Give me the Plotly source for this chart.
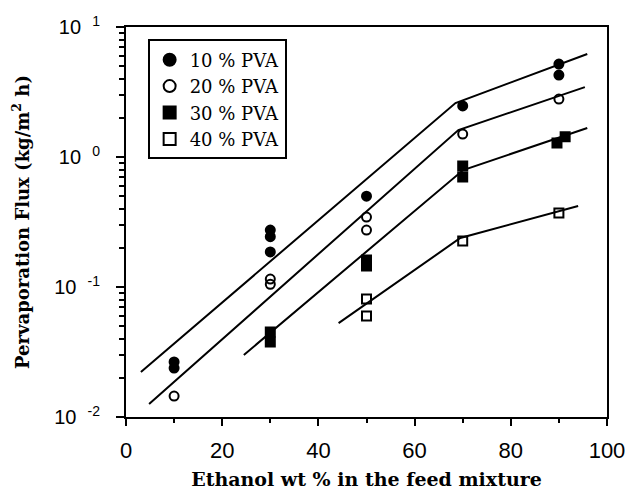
import plotly.graph_objects as go

# ---- data ----
series_names = ["10 % PVA", "20 % PVA", "30 % PVA", "40 % PVA"]

pva10_x = [10, 10, 30, 30, 30, 50, 70, 90, 90]
pva10_y = [0.0265, 0.0238, 0.274, 0.244, 0.186, 0.50, 2.47, 5.19, 4.27]

pva20_x = [10, 30, 30, 50, 50, 70, 90]
pva20_y = [0.0145, 0.115, 0.105, 0.345, 0.274, 1.50, 2.79]

pva30_x = [30, 30, 50, 50, 70, 70, 89.6, 91.3]
pva30_y = [0.0451, 0.0378, 0.161, 0.145, 0.853, 0.702, 1.28, 1.43]

pva40_x = [50, 50, 70, 90]
pva40_y = [0.0809, 0.0598, 0.226, 0.371]

# fitted piecewise lines: (start, kink, end)
fit10_x = [3.1, 68.5, 95.9]
fit10_y = [0.0222, 2.60, 6.2]
fit20_x = [4.8, 69.1, 95.4]
fit20_y = [0.0126, 1.61, 3.45]
fit30_x = [24.5, 70.1, 95.9]
fit30_y = [0.030, 0.794, 1.67]
fit40_x = [44.2, 69.5, 94.0]
fit40_y = [0.0528, 0.238, 0.42]

y_tickvals = [0.01, 0.1, 1, 10]
y_ticktext = ["10\u00a0\u00a0<sup>-2</sup>", "10\u00a0\u00a0<sup>-1</sup>",
              "10\u00a0\u00a0<sup>0</sup>", "10\u00a0\u00a0<sup>1</sup>"]
x_tickvals = [0, 20, 40, 60, 80, 100]

serif = "DejaVu Serif"
sans = "Liberation Sans"

fig = go.Figure()

for fx, fy in [(fit10_x, fit10_y), (fit20_x, fit20_y), (fit30_x, fit30_y), (fit40_x, fit40_y)]:
    fig.add_trace(go.Scatter(x=fx, y=fy, mode="lines", showlegend=False,
                             line=dict(color="black", width=2), hoverinfo="skip"))

marker_defs = [
    (pva10_x, pva10_y, "circle"),
    (pva20_x, pva20_y, "circle-open"),
    (pva30_x, pva30_y, "square"),
    (pva40_x, pva40_y, "square-open"),
]
for (mx, my, sym), name in zip(marker_defs, series_names):
    fig.add_trace(go.Scatter(
        x=mx, y=my, mode="markers", name=name,
        marker=dict(symbol=sym, size=9, color="black",
                    line=dict(color="black", width=2)),
    ))

fig.update_layout(
    width=628, height=495,
    margin=dict(l=126, r=21, t=27, b=78),
    paper_bgcolor="white", plot_bgcolor="white",
    font=dict(family=sans, color="black", size=20),
    legend=dict(
        x=0.045, y=0.968, xanchor="left", yanchor="top",
        bordercolor="black", borderwidth=2, bgcolor="white",
        font=dict(family=serif, size=18, color="black"),
        itemsizing="constant", tracegroupgap=0,
    ),
    showlegend=True,
)

fig.update_xaxes(
    range=[0, 100], tickvals=x_tickvals, automargin=False,
    showline=True, linecolor="black", linewidth=2, mirror=True,
    ticks="outside", ticklen=7, tickwidth=2, tickcolor="black",
    minor=dict(dtick=10, ticks="outside", ticklen=4, tickwidth=2, tickcolor="black"),
    showgrid=False, zeroline=False,
    tickfont=dict(family=sans, size=22),
    ticklabelstandoff=6,
    title=dict(text="<b>Ethanol wt % in the feed mixture</b>",
               font=dict(family=serif, size=19), standoff=10),
)

minor_vals = [m * 10 ** e for e in (-2, -1, 0) for m in range(2, 10)]
fig.update_yaxes(
    type="log", range=[-2, 1], automargin=False,
    tickvals=y_tickvals, ticktext=y_ticktext,
    showline=True, linecolor="black", linewidth=2, mirror=True,
    ticks="outside", ticklen=8, tickwidth=2, tickcolor="black",
    minor=dict(tickvals=minor_vals, ticks="outside", ticklen=5, tickwidth=1.5, tickcolor="black"),
    showgrid=False, zeroline=False,
    tickfont=dict(family=sans, size=20),
    ticklabelstandoff=12,
    title=dict(text="<b>Pervaporation Flux (kg/m<sup>2</sup> h)</b>",
               font=dict(family=serif, size=18), standoff=20),
)

fig.write_html("out.html")
